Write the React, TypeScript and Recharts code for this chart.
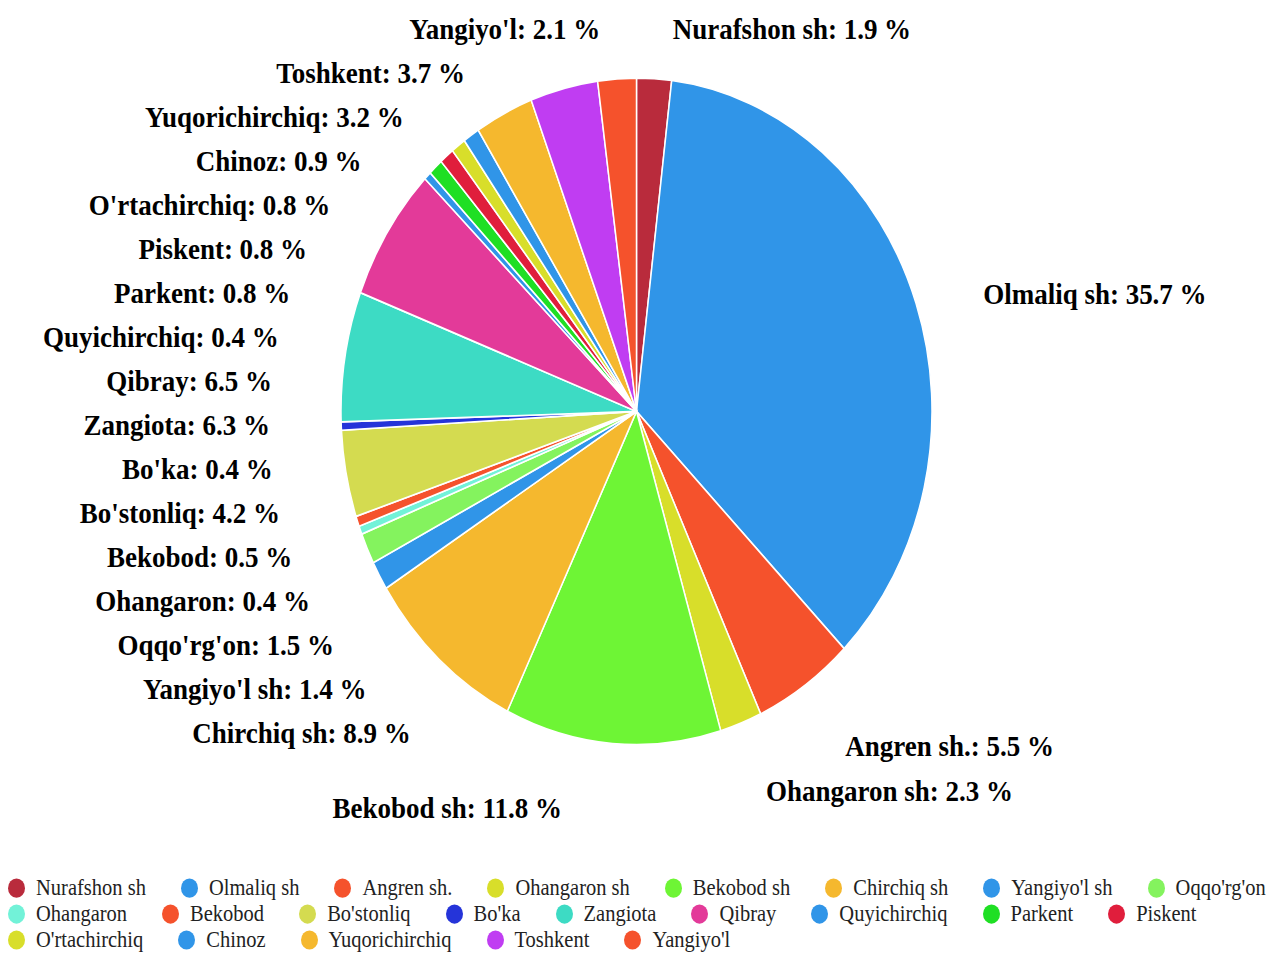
import React from 'react';
import { PieChart, Pie, Cell, Legend } from 'recharts';

const names: string[] = [
  'Nurafshon sh', 'Olmaliq sh', 'Angren sh.', 'Ohangaron sh', 'Bekobod sh', 'Chirchiq sh',
  "Yangiyo'l sh", "Oqqo'rg'on", 'Ohangaron', 'Bekobod', "Bo'stonliq", "Bo'ka", 'Zangiota',
  'Qibray', 'Quyichirchiq', 'Parkent', 'Piskent', "O'rtachirchiq", 'Chinoz', 'Yuqorichirchiq',
  'Toshkent', "Yangiyo'l",
];

const shares: number[] = [
  1.9, 35.7, 5.5, 2.3, 11.8, 8.9, 1.4, 1.5, 0.4, 0.5, 4.2, 0.4, 6.3, 6.5, 0.4, 0.8, 0.8, 0.8,
  0.9, 3.2, 3.7, 2.1,
];

const colors: string[] = [
  '#B92B3C', '#3095E8', '#F5522C', '#D8DE2A', '#6EF535', '#F5B82E', '#3095E8', '#84F35E',
  '#72F2D8', '#F5522C', '#D4DB50', '#2534D9', '#3DDBC4', '#E33A99', '#3095E8', '#1FDF24',
  '#E01E3C', '#D8DE2A', '#3095E8', '#F5B82E', '#C03DF2', '#F5522C',
];

const data = names.map((name, i) => ({ name, value: shares[i], fill: colors[i] }));

const W = 1266;
const H_CHART = 845;
const STRETCH = 953 / 845;
const CX = 636.5;
const CY = 364.8;
const R = 295.5;

const LABEL_TOP = 25;
const LABEL_BOTTOM = 716;
const LABEL_GAP = 39;
const FONT = '"Liberation Serif", "Times New Roman", serif';

type LabelPos = { x: number; y: number; side: number };

function layoutLabels(cx: number, cy: number, r: number): LabelPos[] {
  const total = shares.reduce((a, b) => a + b, 0);
  const a = r * 1.24;
  const b = r * 1.1845;
  const yOff = r * 0.0288;
  let cum = 0;
  const items = shares.map((v, i) => {
    const mid = ((cum + v / 2) / total) * 2 * Math.PI;
    cum += v;
    return { i, side: Math.sin(mid) >= 0 ? 1 : -1, y: cy + yOff - b * Math.cos(mid) };
  });
  [1, -1].forEach((side) => {
    const group = items.filter((it) => it.side === side).sort((p, q) => p.y - q.y);
    let prev = -Infinity;
    group.forEach((it) => {
      it.y = Math.max(it.y, LABEL_TOP, prev + LABEL_GAP);
      prev = it.y;
    });
    let next = Infinity;
    for (let k = group.length - 1; k >= 0; k--) {
      const it = group[k];
      it.y = Math.min(it.y, LABEL_BOTTOM, next - LABEL_GAP);
      next = it.y;
    }
  });
  return items.map((it) => {
    const t = (it.y - cy - yOff) / b;
    const dx = a * Math.sqrt(Math.max(0, 1 - t * t));
    return { x: cx + it.side * dx, y: it.y, side: it.side };
  });
}

const renderLabel = (props: any) => {
  const { cx, cy, outerRadius, index } = props;
  const pos = layoutLabels(cx, cy, outerRadius)[index];
  return (
    <text
      key={`lbl-${index}`}
      x={pos.x}
      y={pos.y}
      textAnchor={pos.side > 0 ? 'start' : 'end'}
      dominantBaseline="central"
      fill="#000"
      style={{ fontFamily: FONT, fontSize: 27, fontWeight: 'bold' }}
    >
      {`${names[index]}: ${shares[index].toFixed(1)} %`}
    </text>
  );
};

const LegendContent = () => (
  <div
    style={{
      display: 'flex',
      flexWrap: 'wrap',
      columnGap: 35,
      rowGap: 0,
      paddingLeft: 8,
      boxSizing: 'border-box',
      width: 1300,
      fontFamily: FONT,
      fontSize: 20.5,
      color: '#222',
    }}
  >
    {names.map((n, i) => (
      <div key={i} style={{ display: 'flex', alignItems: 'center', height: 23.1, lineHeight: '23.1px' }}>
        <span
          style={{
            display: 'inline-block',
            width: 17,
            height: 17,
            borderRadius: '50%',
            background: colors[i],
            marginRight: 11,
          }}
        />
        <span style={{ whiteSpace: 'nowrap' }}>{n}</span>
      </div>
    ))}
  </div>
);

export default function App() {
  return (
    <div
      style={{
        position: 'absolute',
        left: 0,
        top: 0,
        width: W,
        height: 953,
        overflow: 'hidden',
        background: '#fff',
      }}
    >
      <div style={{ width: W, height: H_CHART, transform: `scaleY(${STRETCH})`, transformOrigin: '0 0' }}>
        <PieChart width={W} height={H_CHART} margin={{ top: 0, right: 0, bottom: 0, left: 0 }}>
          <Pie
            data={data}
            dataKey="value"
            nameKey="name"
            cx={CX}
            cy={CY}
            outerRadius={R}
            startAngle={90}
            endAngle={-270}
            stroke="#fff"
            strokeWidth={1.5}
            label={renderLabel}
            labelLine={false}
            isAnimationActive={false}
          >
            {data.map((d, i) => (
              <Cell key={i} fill={colors[i]} />
            ))}
          </Pie>
          <Legend
            content={LegendContent}
            wrapperStyle={{ position: 'absolute', left: 0, top: 775.7, width: 1300, height: 'auto' }}
          />
        </PieChart>
      </div>
    </div>
  );
}
